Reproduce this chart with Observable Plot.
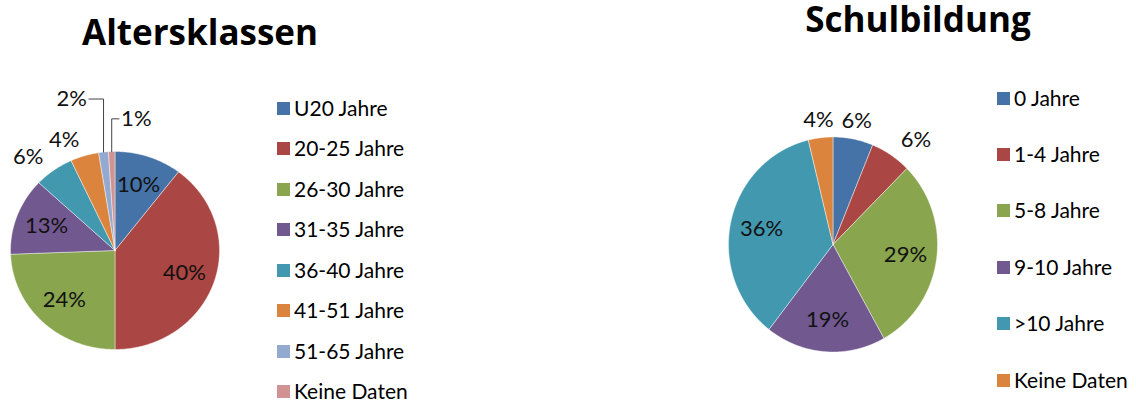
<!DOCTYPE html>
<html>
<head>
<meta charset="utf-8">
<script src="https://cdn.jsdelivr.net/npm/d3@7"></script>
<script src="https://cdn.jsdelivr.net/npm/@observablehq/plot@0.6"></script>
<style>
  html, body { margin: 0; padding: 0; background: #fff; }
  #root { position: relative; width: 1136px; height: 401px; overflow: hidden; font-family: Lato, "Open Sans", sans-serif; color: #000; }
  .title { position: absolute; font-family: "Open Sans", Lato, sans-serif; font-weight: bold; white-space: nowrap; line-height: 1; transform: translateX(-50%); }
  .chart { position: absolute; top: 0; }
  .legend { position: absolute; }
  .item { position: absolute; display: flex; align-items: center; white-space: nowrap; font-size: 21px; line-height: 0.8; height: 17px; }
  .sw { width: 13px; height: 13px; margin-right: 4px; flex: none; }
</style>
</head>
<body>
<div id="root"></div>
<script>
// ---------- data ----------
const altersKategorien = ["U20 Jahre", "20-25 Jahre", "26-30 Jahre", "31-35 Jahre", "36-40 Jahre", "41-51 Jahre", "51-65 Jahre", "Keine Daten"];
const altersWerte = [10.4, 39.6, 24.4, 12.6, 6.1, 4.4, 1.5, 1.0];

const schulKategorien = ["0 Jahre", "1-4 Jahre", "5-8 Jahre", "9-10 Jahre", ">10 Jahre", "Keine Daten"];
const schulWerte = [6.2, 6.3, 29.4, 18.6, 35.7, 3.8];

const palette = ["#4572A7", "#AA4643", "#89A54E", "#71588F", "#4198AF", "#DB843D", "#93A9CF", "#D19392"];

// ---------- helpers ----------
function pieChart({categories, values, cx, cy, rx, ry, width, height}) {
  const total = d3.sum(values);
  const slices = [];
  let acc = 0;
  values.forEach((v, i) => {
    const a0 = acc / total * 2 * Math.PI;
    acc += v;
    const a1 = acc / total * 2 * Math.PI;
    slices.push({key: categories[i], value: v, a0, a1, mid: (a0 + a1) / 2, pct: Math.round(v / total * 100) + "%"});
  });
  // polygons (angle clockwise from 12 o'clock; unit circle coords)
  const pts = [];
  for (const s of slices) {
    pts.push({key: s.key, x: 0, y: 0});
    const n = Math.max(2, Math.ceil((s.a1 - s.a0) / (Math.PI / 360)));
    for (let k = 0; k <= n; k++) {
      const a = s.a0 + (s.a1 - s.a0) * k / n;
      pts.push({key: s.key, x: Math.sin(a), y: Math.cos(a)});
    }
    pts.push({key: s.key, x: 0, y: 0});
  }
  // labels
  const inside = [], outStart = [], outEnd = [], outMid = [], leaders = [];
  let tiny = 0;
  for (const s of slices) {
    const sx = Math.sin(s.mid), sy = Math.cos(s.mid);
    if (s.value >= 8) {
      inside.push({x: 0.7 * sx, y: 0.7 * sy, t: s.pct});
    } else if (s.value >= 3) {
      const r = 1.17;
      const d = {x: r * sx, y: r * sy, t: s.pct};
      if (sx > 0.25) outStart.push(d); else if (sx < -0.25) outEnd.push(d); else outMid.push(d);
    } else {
      const left = tiny % 2 === 0;
      const level = left ? 1.53 : 1.33;
      const hx = left ? -0.14 : 0.07;
      const ex = sx, ey = sy;
      leaders.push({id: s.key, x: ex, y: ey}, {id: s.key, x: ex, y: level}, {id: s.key, x: ex + hx, y: level});
      const d = {x: ex + hx + (left ? -0.02 : 0.02), y: level, t: s.pct};
      if (left) outEnd.push(d); else outStart.push(d);
      tiny++;
    }
  }
  const txt = {x: "x", y: "y", text: "t", fontSize: 22, fill: "#111", lineAnchor: "middle"};
  return Plot.plot({
    width, height,
    margin: 0,
    x: {domain: [-1, 1], range: [cx - rx, cx + rx], axis: null},
    y: {domain: [-1, 1], range: [cy + ry, cy - ry], axis: null},
    color: {domain: categories, range: palette.slice(0, categories.length)},
    style: {fontFamily: "Lato, 'Open Sans', sans-serif", background: "transparent", overflow: "visible"},
    marks: [
      Plot.line(pts, {x: "x", y: "y", z: "key", fill: "key", stroke: "#ffffff", strokeOpacity: 0.55, strokeWidth: 0.8, curve: "linear-closed"}),
      Plot.line(leaders, {x: "x", y: "y", z: "id", stroke: "#444", strokeWidth: 1}),
      Plot.text(inside, {...txt, textAnchor: "middle"}),
      Plot.text(outMid, {...txt, textAnchor: "middle"}),
      Plot.text(outStart, {...txt, textAnchor: "start"}),
      Plot.text(outEnd, {...txt, textAnchor: "end"})
    ]
  });
}

function legend(root, plot, categories, left, top, step) {
  const color = plot.scale("color");
  const box = document.createElement("div");
  box.className = "legend";
  box.style.left = left + "px";
  box.style.top = top + "px";
  categories.forEach((c, i) => {
    const it = document.createElement("div");
    it.className = "item";
    it.style.top = (i * step - 8.5) + "px";
    const sw = document.createElement("span");
    sw.className = "sw";
    sw.style.background = color.apply(c);
    const t = document.createElement("span");
    t.textContent = c;
    it.append(sw, t);
    box.append(it);
  });
  root.append(box);
}

function title(root, text, cx, top, size) {
  const d = document.createElement("div");
  d.className = "title";
  d.textContent = text;
  d.style.left = cx + "px";
  d.style.top = top + "px";
  d.style.fontSize = size + "px";
  root.append(d);
}

// ---------- build ----------
const root = document.getElementById("root");

const left = pieChart({categories: altersKategorien, values: altersWerte, cx: 114.5, cy: 250, rx: 104.5, ry: 99, width: 260, height: 401});
left.classList.add("chart");
left.style.left = "0px";
root.append(left);

const rightOffset = 690;
const right = pieChart({categories: schulKategorien, values: schulWerte, cx: 832.5 - rightOffset, cy: 244, rx: 104.5, ry: 107.5, width: 290, height: 401});
right.classList.add("chart");
right.style.left = rightOffset + "px";
root.append(right);

title(root, "Altersklassen", 200, 14, 35);
title(root, "Schulbildung", 918, 1, 35);

legend(root, left, altersKategorien, 277, 108, 40.5);
legend(root, right, schulKategorien, 997, 98, 56.4);
</script>
</body>
</html>
